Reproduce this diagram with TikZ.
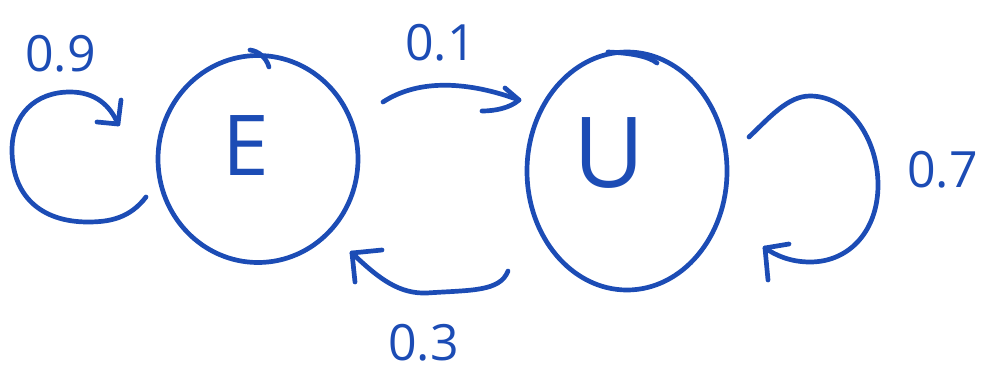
\documentclass[tikz,border=0pt]{standalone}
\usepackage{fontspec}
\setmainfont{Open Sans}
\usetikzlibrary{shapes.geometric}
\definecolor{ink}{RGB}{28,76,181}
\begin{document}
\begin{tikzpicture}[x=1pt,y=-1pt,
  pen/.style={draw=ink,line width=4.7pt,line cap=round,line join=round},
  statebox/.style={ellipse,pen,inner sep=0pt},
  lbl/.style={text=ink,font=\fontsize{50}{60}\selectfont,anchor=base west,inner sep=0pt},
  letter/.style={text=ink,anchor=base,inner sep=0pt}]
\useasboundingbox (0,0) rectangle (992,372);
% states
\node[statebox,minimum width=200pt,minimum height=207pt] (E) at (258,159) {};
\node[statebox,minimum width=200pt,minimum height=238pt] (U) at (627,171) {};
\node[letter,font=\fontsize{84}{90}\selectfont] (Et) at (246,175) {E};
\node[letter,font=\fontsize{98}{100}\selectfont] (Ut) at (609,187) {U};
% extra pen strokes at the tops of the states
\draw[pen] (250,50) .. controls (258,51) and (266,57) .. (269,67);
\draw[pen] (608,52) .. controls (630,53) and (648,56) .. (657,63);
% endpoints
\coordinate (a1) at (146,197); \coordinate (b1) at (118,124);
\coordinate (a2) at (383,102); \coordinate (b2) at (519,100);
\coordinate (a3) at (508,271); \coordinate (b3) at (352,253);
\coordinate (a4) at (749,137); \coordinate (b4) at (765,248);
% E self loop (0.9)
\draw[pen] (a1) .. controls (130,218) and (110,222) .. (88,222)
  .. controls (40,222) and (12,195) .. (12,150)
  .. controls (12,115) and (35,92) .. (70,92)
  .. controls (95,92) and (110,105) .. (b1);
\draw[pen] (b1) ++(-21,-2) -- (b1) -- ++(3,-24);
% E -> U (0.1)
\draw[pen] (a2) .. controls (420,78) and (470,82) .. (b2);
\draw[pen] (b2) ++(-14,-12) -- (b2) .. controls (510,108) and (495,111) .. (482,111);
% U -> E (0.3)
\draw[pen] (a3) .. controls (500,292) and (470,290) .. (427,293)
  .. controls (400,294) and (380,280) .. (b3);
\draw[pen] (b3) ++(30,-3) -- (b3) -- ++(3,29);
% U self loop (0.7)
\draw[pen] (a4) .. controls (770,117) and (788,96) .. (810,96)
  .. controls (850,96) and (878,140) .. (878,185)
  .. controls (878,230) and (850,262) .. (810,262)
  .. controls (790,262) and (775,255) .. (b4);
\draw[pen] (b4) ++(24,-4) -- (b4) -- ++(3,32);
% labels
\node[lbl] (l9) at (25,71) {0.9};
\node[lbl] (l1) at (405,60) {0.1};
\node[lbl] (l3) at (388,360) {0.3};
\node[lbl] (l7) at (907,187) {0.7};
\end{tikzpicture}
\end{document}
